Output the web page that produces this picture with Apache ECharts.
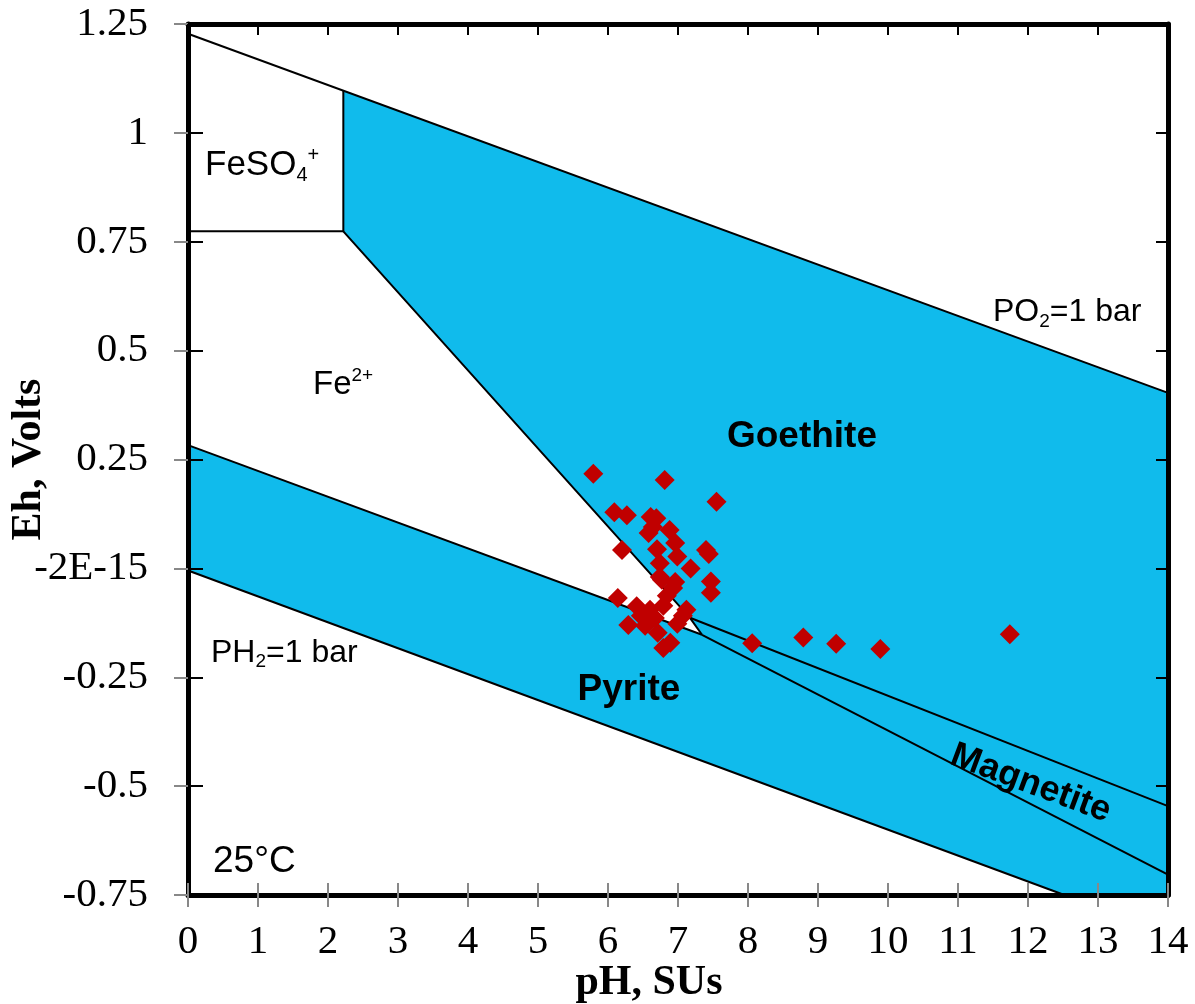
<!DOCTYPE html>
<html>
<head>
<meta charset="utf-8">
<title>Eh-pH diagram</title>
<script src="https://cdn.jsdelivr.net/npm/echarts@6/dist/echarts.min.js"></script>
<style>
    html, body {margin: 0; padding: 0; background: #fff;}
    #chart {width: 1195px; height: 1004px;}
</style>
</head>
<body>
<div id="chart"></div>
<script>
// y tick values and the text Excel printed for them
var yTickValues = [-0.75, -0.5, -0.25, 0, 0.25, 0.5, 0.75, 1, 1.25];
var yTickLabels = ['-0.75', '-0.5', '-0.25', '-2E-15', '0.25', '0.5', '0.75', '1', '1.25'];

// samples
var samplePH = [5.79, 6.81, 7.55, 6.09, 6.27, 6.61, 6.69, 6.88, 6.58, 6.64, 6.96, 6.20, 6.70, 6.99, 7.40,
    7.44, 6.74, 7.18, 7.47, 7.47, 6.74, 6.96, 6.77, 6.93, 6.84, 6.14, 7.12, 6.41, 6.60, 6.79, 6.29, 6.47,
    6.53, 6.67, 6.71, 6.89, 6.79, 6.99, 7.07, 8.06, 8.79, 9.26, 9.89, 11.74];
var sampleEh = [0.217, 0.203, 0.153, 0.129, 0.122, 0.118, 0.115, 0.088, 0.081, 0.095, 0.058, 0.042, 0.044,
    0.027, 0.042, 0.033, 0.012, 0.000, -0.030, -0.056, -0.020, -0.031, -0.026, -0.045, -0.063, -0.068,
    -0.095, -0.087, -0.095, -0.086, -0.130, -0.109, -0.132, -0.114, -0.148, -0.171, -0.183, -0.127,
    -0.109, -0.172, -0.159, -0.173, -0.185, -0.151];

// boundaries, [pH, Eh]
var lineO2 = [[0, 1.2275], [14, 0.403]];
var lineH2 = [[0, -0.005], [12.52, -0.75]];
var lineFeSO4 = [[0, 0.774], [2.219, 0.774], [2.219, 1.0966]];
var lineFeGoethite = [[2.219, 0.774], [7.171, -0.1135], [7.343, -0.1525]];
var lineFePyrite = [[0, 0.283], [7.343, -0.1525]];
var lineGoethiteMagnetite = [[7.171, -0.1135], [14, -0.546]];
var linePyriteMagnetite = [[7.343, -0.1525], [14, -0.703]];

// mineral fields (filled)
var fieldGoethite = [[2.219, 1.0966], [14, 0.403], [14, -0.546], [7.171, -0.1135], [2.219, 0.774]];
var fieldMagnetite = [[7.171, -0.1135], [14, -0.546], [14, -0.703], [7.343, -0.1525]];
var fieldPyrite = [[0, 0.283], [7.343, -0.1525], [14, -0.703], [14, -0.75], [12.52, -0.75], [0, -0.005]];

// field labels
var labelText = ['{n|FeSO}{b|4}{p|+}', '{n|Fe}{p|2+}', '{k|Goethite}', '{k|Pyrite}', '{k|Magnetite}',
    '{n|PO}{b|2}{n|=1 bar}', '{n|PH}{b|2}{n|=1 bar}', '{n|25°C}'];
var labelPH = [0.243, 1.786, 8.771, 6.3, 12.04, 11.5, 0.329, 0.357];
var labelEh = [0.925, 0.421, 0.302, -0.279, -0.494, 0.588, -0.194, -0.673];
var labelAlign = ['left', 'left', 'center', 'center', 'center', 'left', 'left', 'left'];
var labelRotate = [0, 0, 0, 0, -0.355, 0, 0, 0];
var labelSize = [35, 33, 37, 37, 36, 32, 32, 37];

var BLUE = '#10BBEC';
var SERIF = 'Liberation Serif';
var SANS = 'Liberation Sans';

var chart = echarts.init(document.getElementById('chart'));

function boundary(data) {
    return {
        type: 'line',
        data: data,
        symbol: 'none',
        silent: true,
        z: 3,
        lineStyle: {color: '#000', width: 2}
    };
}

var fields = [fieldGoethite, fieldMagnetite, fieldPyrite];

var sampleData = samplePH.map(function (ph, i) {
    return [ph, sampleEh[i]];
});
var labelData = labelPH.map(function (ph, i) {
    return [ph, labelEh[i]];
});

var tickStyle = {color: '#888', width: 2};
var blackTick = {color: '#000', width: 2};

var option = {
    animation: false,
    grid: {left: 188, right: 27, top: 24, bottom: 109, containLabel: false, outerBoundsMode: 'none'},
    xAxis: [
        {
            type: 'value', position: 'bottom', min: 0, max: 14, interval: 1, z: 10,
            axisLine: {onZero: false, lineStyle: {color: '#000', width: 5}},
            axisTick: {length: 12, lineStyle: tickStyle},
            axisLabel: {margin: 27, color: '#000', fontFamily: SERIF, fontSize: 41},
            splitLine: {show: false},
            name: 'pH, SUs',
            nameLocation: 'middle',
            nameMoveOverlap: false,
            nameGap: 67,
            nameTextStyle: {color: '#000', fontFamily: SERIF, fontWeight: 'bold', fontSize: 42, padding: [0, 58, 0, 0]}
        },
        {
            type: 'value', position: 'bottom', min: 0, max: 14, interval: 1, z: 10,
            axisLine: {show: false, onZero: false},
            axisTick: {inside: true, length: 12, lineStyle: tickStyle},
            axisLabel: {show: false},
            splitLine: {show: false}
        },
        {
            type: 'value', position: 'top', min: 0, max: 14, interval: 1, z: 10,
            axisLine: {onZero: false, lineStyle: {color: '#000', width: 5}},
            axisTick: {inside: true, length: 11, lineStyle: blackTick},
            axisLabel: {show: false},
            splitLine: {show: false}
        }
    ],
    yAxis: [
        {
            type: 'value', position: 'left', min: -0.75, max: 1.25, interval: 0.25, z: 10,
            axisLine: {onZero: false, lineStyle: {color: '#000', width: 5}},
            axisTick: {length: 14, lineStyle: tickStyle},
            axisLabel: {
                margin: 40, color: '#000', fontFamily: SERIF, fontSize: 41,
                formatter: function (v) {
                    for (var i = 0; i < yTickValues.length; i++) {
                        if (Math.abs(yTickValues[i] - v) < 1e-9) return yTickLabels[i];
                    }
                    return '';
                }
            },
            splitLine: {show: false},
            name: 'Eh, Volts',
            nameLocation: 'middle',
            nameMoveOverlap: false,
            nameGap: 138,
            nameTextStyle: {color: '#000', fontFamily: SERIF, fontWeight: 'bold', fontSize: 42}
        },
        {
            type: 'value', position: 'left', min: -0.75, max: 1.25, interval: 0.25, z: 10,
            axisLine: {show: false, onZero: false},
            axisTick: {inside: true, length: 15, lineStyle: blackTick},
            axisLabel: {show: false},
            splitLine: {show: false}
        },
        {
            type: 'value', position: 'right', min: -0.75, max: 1.25, interval: 0.25, z: 10,
            axisLine: {onZero: false, lineStyle: {color: '#000', width: 5}},
            axisTick: {inside: true, length: 12, lineStyle: blackTick},
            axisLabel: {show: false},
            splitLine: {show: false}
        }
    ],
    series: [
        {
            type: 'custom',
            silent: true,
            z: 1,
            data: fields.map(function (f, i) { return [i]; }),
            renderItem: function (params, api) {
                var pts = fields[params.dataIndex].map(function (p) { return api.coord(p); });
                return {type: 'polygon', shape: {points: pts}, style: {fill: BLUE}};
            }
        },
        boundary(lineO2),
        boundary(lineH2),
        boundary(lineFeSO4),
        boundary(lineFeGoethite),
        boundary(lineFePyrite),
        boundary(lineGoethiteMagnetite),
        boundary(linePyriteMagnetite),
        {
            type: 'scatter',
            data: sampleData,
            symbol: 'diamond',
            symbolSize: 20,
            z: 4,
            itemStyle: {color: '#C00000', opacity: 1}
        },
        {
            type: 'custom',
            silent: true,
            z: 5,
            data: labelData,
            renderItem: function (params, api) {
                var i = params.dataIndex;
                var pt = api.coord([api.value(0), api.value(1)]);
                var fs = labelSize[i];
                var small = Math.round(fs * 0.58);
                return {
                    type: 'text',
                    x: pt[0],
                    y: pt[1],
                    rotation: labelRotate[i],
                    style: {
                        text: labelText[i],
                        align: labelAlign[i],
                        verticalAlign: 'middle',
                        rich: {
                            n: {fontFamily: SANS, fontSize: fs, lineHeight: fs + 5, fill: '#000'},
                            k: {fontFamily: SANS, fontSize: fs, fontWeight: 'bold', lineHeight: fs, fill: '#000'},
                            b: {fontFamily: SANS, fontSize: small, lineHeight: small, verticalAlign: 'bottom', fill: '#000'},
                            p: {fontFamily: SANS, fontSize: small, lineHeight: small, verticalAlign: 'top', fill: '#000'}
                        }
                    }
                };
            }
        }
    ]
};

chart.setOption(option);
</script>
</body>
</html>
